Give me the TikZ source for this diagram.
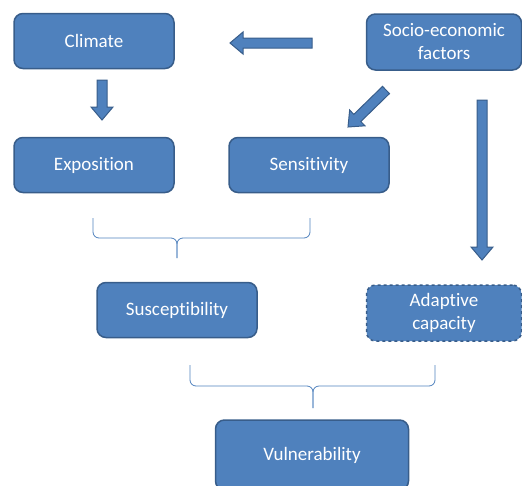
\documentclass[tikz,border=0pt]{standalone}
\usepackage{fontspec}
\setmainfont{Carlito}[Ligatures=NoCommon]
\usetikzlibrary{calc}

\definecolor{boxblue}{HTML}{4F81BD}
\definecolor{boxline}{HTML}{385D8A}

% block arrow from #1 to #2
\newcommand\blockarrow[2]{%
 \coordinate (h) at ($(#2)!13pt!(#1)$);
 \filldraw[fill=boxblue,draw=boxline,line width=1pt,line join=miter]
  ($(#1)!5pt!90:(#2)$) -- ($(h)!5pt!90:(#2)$) -- ($(h)!11pt!90:(#2)$) -- (#2)
  -- ($(h)!11pt!-90:(#2)$) -- ($(h)!5pt!-90:(#2)$) -- ($(#1)!5pt!-90:(#2)$) -- cycle;}

\begin{document}
\begin{tikzpicture}
[x=1pt,y=-1pt,
 box/.style={rectangle,rounded corners=9pt,fill=boxblue,draw=boxline,line width=1.5pt,
  text=white,align=center,font=\fontsize{19}{23}\selectfont,
  minimum width=160pt,minimum height=55pt,inner sep=0pt},
 bracket/.style={draw=boxblue,line width=0.8pt,rounded corners=6pt}]

\useasboundingbox (0,0) rectangle (522,485);

\node (clim) at (94,41) [box] {Climate};
\node (socio) at (444,42) [box,minimum width=155pt,minimum height=56pt] {Socio-economic\\factors};
\node (expo) at (94,165) [box] {Exposition};
\node (sens) at (309,165) [box] {Sensitivity};
\node (susc) at (177,310) [box] {Susceptibility};
\node (adapt) at (444,313) [box,minimum width=155pt,minimum height=56pt,dashed] {Adaptive\\capacity};
\node (vuln) at (312,455) [box,minimum width=193pt,minimum height=70pt] {Vulnerability};

% arrows
\coordinate (a1) at (312,43);
\coordinate (a2) at (230,43);
\coordinate (b1) at (102,80);
\coordinate (b2) at (102,120);
\coordinate (c1) at (386,90);
\coordinate (c2) at (348,127);
\coordinate (d1) at (482,100);
\coordinate (d2) at (482,260);
\blockarrow{a1}{a2}
\blockarrow{b1}{b2}
\blockarrow{c1}{c2}
\blockarrow{d1}{d2}

% braces
\coordinate (u1) at (93,218);
\coordinate (u2) at (310,218);
\coordinate (ut) at (177,258);
\coordinate (l1) at (190,365);
\coordinate (l2) at (435,365);
\coordinate (lt) at (313,408);
\draw[bracket] (u1) |- ($(ut)+(0,-20)$) -- (ut);
\draw[bracket] (u2) |- ($(ut)+(0,-20)$) -- (ut);
\draw[bracket] (l1) |- ($(lt)+(0,-22)$) -- (lt);
\draw[bracket] (l2) |- ($(lt)+(0,-22)$) -- (lt);
\end{tikzpicture}
\end{document}
